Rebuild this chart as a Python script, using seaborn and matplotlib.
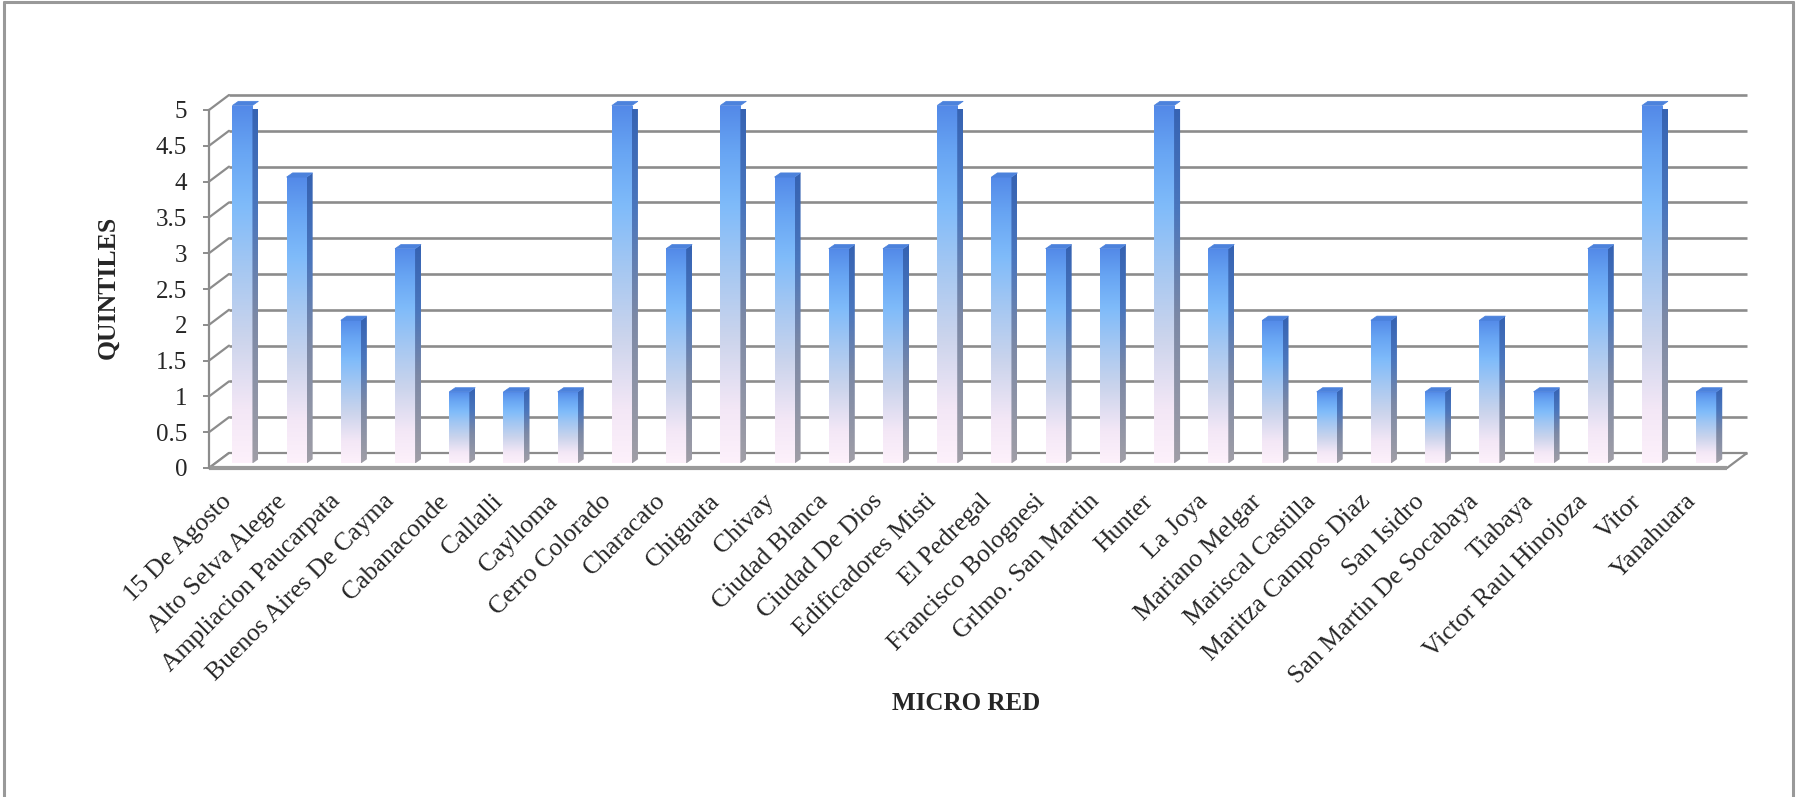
import numpy as np
import matplotlib
matplotlib.use("Agg")
import matplotlib.pyplot as plt
import seaborn as sns
from matplotlib.colors import LinearSegmentedColormap
from matplotlib.patches import Polygon
from matplotlib.lines import Line2D

# ---- data ----
categories = [
    "15 De Agosto", "Alto Selva Alegre", "Ampliacion Paucarpata",
    "Buenos Aires De Cayma", "Cabanaconde", "Callalli", "Caylloma",
    "Cerro Colorado", "Characato", "Chiguata", "Chivay", "Ciudad Blanca",
    "Ciudad De Dios", "Edificadores Misti", "El Pedregal",
    "Francisco Bolognesi", "Grlmo. San Martin", "Hunter", "La Joya",
    "Mariano Melgar", "Mariscal Castilla", "Maritza Campos Diaz",
    "San Isidro", "San Martin De Socabaya", "Tiabaya",
    "Victor Raul Hinojoza", "Vitor", "Yanahuara",
]
quintiles = [5, 4, 2, 3, 1, 1, 1, 5, 3, 5, 4, 3, 3, 5, 4, 3, 3, 5, 3, 2, 1, 2, 1, 2, 1, 3, 5, 1]
y_ticks = [0, 0.5, 1, 1.5, 2, 2.5, 3, 3.5, 4, 4.5, 5]
x_title = "MICRO RED"
y_title = "QUINTILES"

# ---- figure geometry (pixels) ----
W, H = 1796, 797
DPI = 100
AX_L, AX_R, AX_T, AX_B = 209, 1727, 110, 468

sns.set_style("white")
plt.rcParams["font.family"] = ["Liberation Serif", "DejaVu Serif"]

fig = plt.figure(figsize=(W / DPI, H / DPI), dpi=DPI)
ax = fig.add_axes([AX_L / W, (H - AX_B) / H, (AX_R - AX_L) / W, (AX_B - AX_T) / H])

n = len(categories)
XMIN, XMAX, YMIN, YMAX = -0.5, n - 0.5, 0, 5
px_x = (XMAX - XMIN) / (AX_R - AX_L)   # data units per pixel
px_y = (YMAX - YMIN) / (AX_B - AX_T)

# depth of the 3-D box (back wall offset) and of each bar
WALL_DX, WALL_DY = 20 * px_x, 15 * px_y
BAR_OFF_X, BAR_OFF_Y = 6.3 * px_x, 4.5 * px_y
BAR_DX, BAR_DY = 6 * px_x, 4.2 * px_y

grid_col = "#8c8c8c"

# back wall gridlines and side wall diagonals
for v in y_ticks:
    ax.plot([XMIN + WALL_DX, XMAX + WALL_DX], [v + WALL_DY, v + WALL_DY],
            color=grid_col, lw=1.9, zorder=1, clip_on=False, solid_capstyle="butt")
    ax.plot([XMIN, XMIN + WALL_DX], [v, v + WALL_DY],
            color=grid_col, lw=1.6, zorder=1, clip_on=False)

# floor
floor = Polygon([(XMIN, 0), (XMAX, 0), (XMAX + WALL_DX, WALL_DY), (XMIN + WALL_DX, WALL_DY)],
                closed=True, facecolor="white", edgecolor=grid_col, lw=1.6,
                zorder=1.5, clip_on=False)
ax.add_patch(floor)
ax.plot([XMIN, XMAX], [0, 0], color="#9a9a9a", lw=3.0, zorder=1.6, clip_on=False,
        solid_capstyle="butt")

# bars (front faces from seaborn)
sns.barplot(x=categories, y=quintiles, order=categories, ax=ax, width=0.37,
            errorbar=None, color="white", zorder=3)

front_cmap = LinearSegmentedColormap.from_list("front", [
    (0.0, "#fdf1fb"), (0.15, "#f3e7f6"), (0.35, "#cbd4ec"), (0.55, "#a4c7f2"),
    (0.72, "#7fbbfa"), (0.87, "#68a5f3"), (1.0, "#5389e8")])
side_cmap = LinearSegmentedColormap.from_list("side", [
    (0.0, "#a09ea6"), (0.4, "#7c89a6"), (0.7, "#4a76bd"), (1.0, "#3562b2")])
grad = np.linspace(0, 1, 256).reshape(-1, 1)

for i, patch in enumerate(list(ax.patches)):
    if patch is floor:
        continue
    x0 = patch.get_x() + BAR_OFF_X
    w = patch.get_width()
    h = patch.get_height()
    y0 = BAR_OFF_Y
    x1 = x0 + w
    patch.set_x(x0)
    patch.set_y(y0)
    patch.set_facecolor("none")
    patch.set_edgecolor("none")
    patch.set_clip_on(False)

    im = ax.imshow(grad, cmap=front_cmap, origin="lower", aspect="auto",
                   extent=[x0, x1, y0, y0 + h], zorder=3, interpolation="bilinear")
    im.set_clip_box(None)
    im.set_clip_path(patch)

    side = Polygon([(x1, y0), (x1 + BAR_DX, y0 + BAR_DY),
                    (x1 + BAR_DX, y0 + h + BAR_DY), (x1, y0 + h)],
                   closed=True, facecolor="none", edgecolor="none", zorder=3,
                   clip_on=False)
    ax.add_patch(side)
    im2 = ax.imshow(grad, cmap=side_cmap, origin="lower", aspect="auto",
                    extent=[x1, x1 + BAR_DX, y0, y0 + h + BAR_DY], zorder=3,
                    interpolation="bilinear")
    im2.set_clip_box(None)
    im2.set_clip_path(side)

    top = Polygon([(x0, y0 + h), (x1, y0 + h), (x1 + BAR_DX, y0 + h + BAR_DY),
                   (x0 + BAR_DX, y0 + h + BAR_DY)],
                  closed=True, facecolor="#4c82dc", edgecolor="#4c82dc", lw=0.5,
                  zorder=3.5, clip_on=False)
    ax.add_patch(top)

ax.set_xlim(XMIN, XMAX)
ax.set_ylim(YMIN, YMAX)

# axes styling
for s in ["top", "right", "bottom"]:
    ax.spines[s].set_visible(False)
ax.spines["left"].set_color(grid_col)
ax.spines["left"].set_linewidth(1.6)
ax.spines["left"].set_zorder(2)

ax.set_yticks(y_ticks)
ax.set_yticklabels([f"{v:g}" for v in y_ticks])
ax.tick_params(axis="y", length=4.3, width=1.4, color=grid_col, pad=11.5,
               labelsize=18, left=True)
ax.set_xticks(range(n))
ax.set_xticklabels(categories, rotation=45, ha="right", va="top",
                   rotation_mode="default")
ax.tick_params(axis="x", length=0, pad=16, labelsize=18.5)
ax.set_xlabel("")
ax.set_ylabel("")

fig.text(966 / W, 1 - 703 / H, x_title, ha="center", va="center",
         fontsize=18, fontweight="bold")
fig.text(108 / W, 1 - 287 / H, y_title, ha="center", va="center",
         rotation=90, fontsize=18.5, fontweight="bold")

# outer chart frame
frame_kw = dict(color="#999999", lw=2.2, transform=fig.transFigure)
fig.add_artist(Line2D([4 / W, 4 / W], [0, 1 - 2 / H], **frame_kw))
fig.add_artist(Line2D([4 / W, 1793 / W], [1 - 2 / H, 1 - 2 / H], **frame_kw))
fig.add_artist(Line2D([1793 / W, 1793 / W], [0, 1 - 2 / H], **frame_kw))

fig.savefig("out.png", dpi=DPI, facecolor="white")
